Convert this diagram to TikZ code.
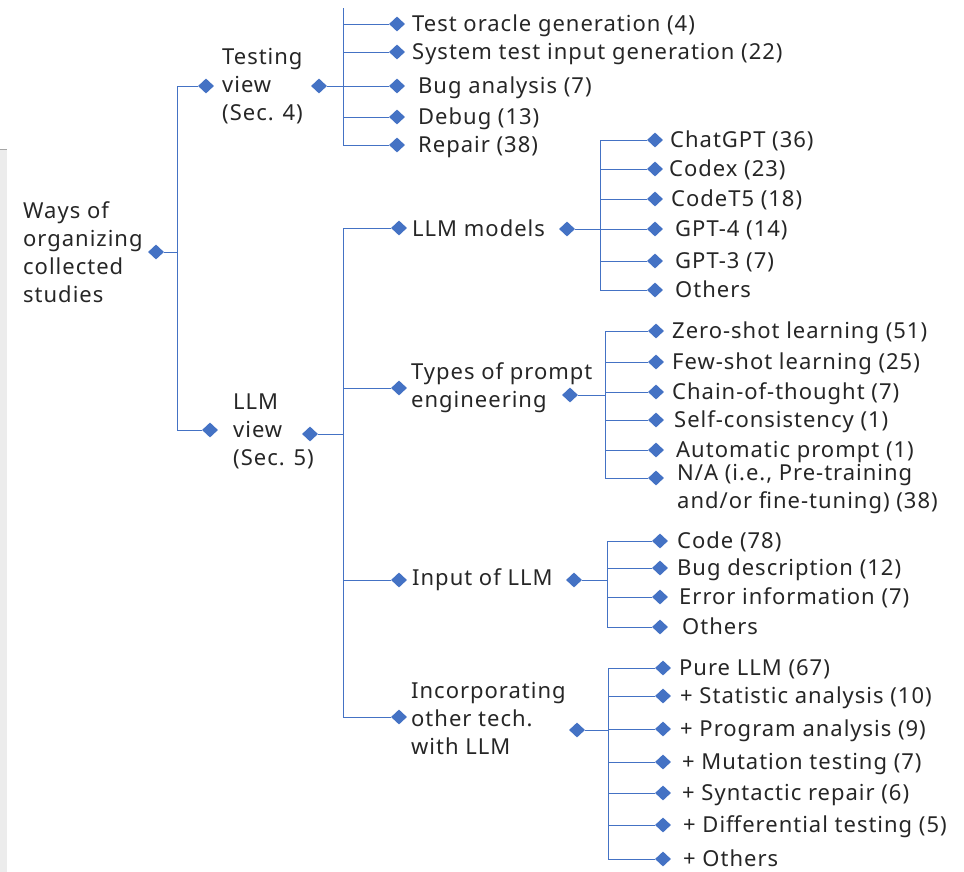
\documentclass[tikz,border=0pt]{standalone}
\usepackage{fontspec}
\setmainfont[LetterSpace=4.5]{Noto Sans}
\usetikzlibrary{shapes.geometric}
\definecolor{lienbleu}{HTML}{4472C4}
\definecolor{textegris}{HTML}{262626}
\tikzset{
  losange/.style={diamond, fill=lienbleu, inner sep=0pt, minimum width=16pt, minimum height=15pt},
  etiq/.style={anchor=west, inner sep=0pt, text=textegris, font=\fontsize{22}{28}\selectfont, align=left},
  lien/.style={draw=lienbleu, line width=0.9pt},
}
% #1 prefix, #2 joint (parent side), #3 leaf diamond x, #4 list y/dx/text
\newcommand{\feuilles}[4]{%
  \foreach \y/\dx/\t [count=\i] in {#4} {
    \node[losange] (#1\i d) at (#3,\y) {};
    \node[etiq, anchor=base west] (#1\i) at (#3+\dx,\y+7.5) {\t};
    \draw[lien] (#2) |- (#1\i d.west);
  }}

\begin{document}
\begin{tikzpicture}[x=1pt,y=-1pt]
  \useasboundingbox (0,0) rectangle (964,872);
  \fill[gray!15] (0,150) rectangle (7,872);
  \draw[gray!70, line width=1pt] (0,150) -- (7,150);

  % root
  \node[etiq] (racine) at (23,252) {Ways of\\organizing\\collected\\studies};
  \node[losange] (racined) at (156,252) {};
  \coordinate (racinej) at (177,252);
  \draw[lien] (racined) -- (racinej);

  % testing view
  \node[losange] (testg) at (206,86) {};
  \node[etiq] (test) at (222,86) {Testing\\view\\(Sec. 4)};
  \node[losange] (testd) at (319,86) {};
  \coordinate (testj) at (343,86);
  \coordinate (testhaut) at (343,8);
  \draw[lien] (racinej) |- (testg.west);
  \draw[lien] (testd) -- (testj) -- (testhaut);
  \feuilles{t}{testj}{397}{24/15/{Test oracle generation (4)},
    52/15/{System test input generation (22)}, 86/21/{Bug analysis (7)},
    117/21/{Debug (13)}, 145/21/{Repair (38)}}

  % LLM view
  \node[losange] (llmg) at (210,430) {};
  \node[etiq] (llm) at (233,431) {LLM\\view\\(Sec. 5)};
  \node[losange] (llmd) at (310,434) {};
  \coordinate (llmj) at (343,434);
  \draw[lien] (racinej) |- (llmg.west);
  \draw[lien] (llmd) -- (llmj);
  \node[losange] (v1d) at (399,228) {};
  \node[etiq] (v1) at (412,228) {LLM models};
  \node[losange] (v2d) at (399,388) {};
  \node[etiq] (v2) at (411,388) {Types of prompt\\engineering};
  \node[losange] (v3d) at (399,580) {};
  \node[etiq] (v3) at (412,580) {Input of LLM};
  \node[losange] (v4d) at (399,717) {};
  \node[etiq] (v4) at (411,718) {Incorporating\\other tech.\\with LLM};
  \foreach \i in {1,...,4} \draw[lien] (llmj) |- (v\i d.west);

  % LLM models
  \node[losange] (modd) at (567,229) {};
  \coordinate (modj) at (600,229);
  \draw[lien] (modd) -- (modj);
  \feuilles{m}{modj}{655}{140/15/{ChatGPT (36)}, 169/14/{Codex (23)}, 199/16/{CodeT5 (18)},
    229/20/{GPT-4 (14)}, 261/20/{GPT-3 (7)}, 290/20/{Others}}

  % prompt engineering
  \node[losange] (promd) at (570,395) {};
  \coordinate (promj) at (605,395);
  \draw[lien] (promd) -- (promj);
  \feuilles{p}{promj}{656}{331/16/{Zero-shot learning (51)}, 362/16/{Few-shot learning (25)},
    392/16/{Chain-of-thought (7)}, 420/18/{Self-consistency (1)},
    450/20/{Automatic prompt (1)}}
  \node[losange] (p6d) at (656,478) {};
  \node[etiq] (p6) at (677,489) {N/A (i.e., Pre-training\\and/or fine-tuning) (38)};
  \draw[lien] (promj) |- (p6d.west);

  % input of LLM
  \node[losange] (entd) at (574,580) {};
  \coordinate (entj) at (607,580);
  \draw[lien] (entd) -- (entj);
  \feuilles{e}{entj}{660}{541/17/{Code (78)}, 568/17/{Bug description (12)},
    597/19/{Error information (7)}, 627/22/{Others}}

  % other techniques
  \node[losange] (incd) at (577,730) {};
  \coordinate (incj) at (608,730);
  \draw[lien] (incd) -- (incj);
  \feuilles{c}{incj}{663}{668/16/{Pure LLM (67)}, 696/17/{+ Statistic analysis (10)},
    729/17/{+ Program analysis (9)}, 762/19/{+ Mutation testing (7)},
    793/19/{+ Syntactic repair (6)}, 825/20/{+ Differential testing (5)}, 859/20/{+ Others}}
\end{tikzpicture}
\end{document}
